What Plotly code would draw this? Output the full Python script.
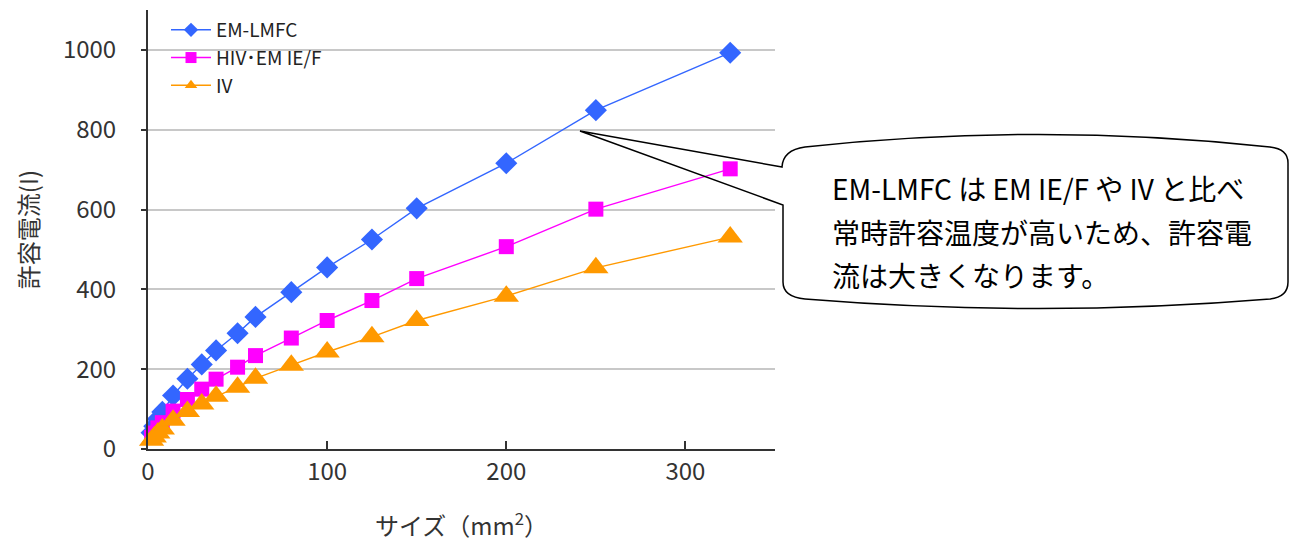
import plotly.graph_objects as go

# ---- data ----
sizes = [2, 3.5, 5.5, 8, 14, 22, 30, 38, 50, 60, 80, 100, 125, 150, 200, 250, 325]
em_lmfc = [41, 57, 75, 93, 134, 176, 212, 247, 290, 331, 393, 455, 525, 603, 716, 849, 993]
hiv_em = [29, 40, 53, 66, 95, 124, 150, 175, 205, 234, 278, 322, 372, 427, 507, 601, 702]
iv = [22, 30, 40, 50, 72, 94, 113, 132, 155, 177, 210, 243, 281, 322, 383, 454, 531]
series_names = ["EM-LMFC", "HIV･EM IE/F", "IV"]
x_ticks = [0, 100, 200, 300]
y_ticks = [0, 200, 400, 600, 800, 1000]
callout_lines = ["EM-LMFC は EM IE/F や IV と比べ", "常時許容温度が高いため、許容電", "流は大きくなります。"]

W, H = 1295, 548
L, R, T, B = 148, 775, 10, 449  # plot area in pixels

def px(x):
    return (x - L) / (R - L)

def py(y):
    return (B - y) / (B - T)

FONT = "Noto Sans CJK JP"
colors = ["#3366FF", "#FF00FF", "#FF9900"]
symbols = ["diamond", "square", "triangle-up"]
msizes = [17, 15, 22]
data = [em_lmfc, hiv_em, iv]

fig = go.Figure()
for name, vals, c, s, ms in zip(series_names, data, colors, symbols, msizes):
    fig.add_trace(go.Scatter(
        x=sizes, y=vals, mode="lines+markers", name=name, showlegend=False,
        line=dict(color=c, width=1.4),
        marker=dict(symbol=s, size=ms, color=c),
        cliponaxis=False,
    ))
# legend entries with smaller markers
for i, (name, c, s) in enumerate(zip(series_names, colors, symbols)):
    fig.add_trace(go.Scatter(
        x=[None], y=[None], mode="lines+markers", name=name, legendgroup=str(i),
        line=dict(color=c, width=1.5),
        marker=dict(symbol=s, size=11, color=c),
    ))

# callout shape (wedge rounded rectangle)
tip = (580, 131)
path_pts = [
    ("M", [(782, 167)]),
    ("L", [tip]),
    ("L", [(783, 205)]),
    ("L", [(783, 282)]),
    ("Q", [(783, 297), (805, 299)]),
    ("Q", [(1040, 318), (1270, 299)]),
    ("Q", [(1288, 297), (1288, 282)]),
    ("L", [(1288, 163)]),
    ("Q", [(1288, 149), (1270, 147)]),
    ("Q", [(1040, 122), (805, 147)]),
    ("Q", [(783, 150), (782, 167)]),
]
path = ""
for cmd, pts in path_pts:
    path += cmd + " ".join(f"{px(x):.5f},{py(y):.5f}" for x, y in pts) + " "
path += "Z"
fig.add_shape(type="path", xref="paper", yref="paper", path=path,
              line=dict(color="#000000", width=1.5), fillcolor="rgba(0,0,0,0)", layer="above")

for i, line in enumerate(callout_lines):
    fig.add_annotation(xref="paper", yref="paper", x=px(830), y=py(188 + 43.5 * i),
                       text=line, showarrow=False, xanchor="left", yanchor="middle",
                       font=dict(family=FONT, size=28, color="#000000"))

fig.update_layout(
    width=W, height=H,
    margin=dict(l=L, r=W - R, t=T, b=H - B, pad=0, autoexpand=False),
    paper_bgcolor="white", plot_bgcolor="white",
    showlegend=True,
    legend=dict(x=px(166), y=py(11), xanchor="left", yanchor="top",
                bgcolor="rgba(0,0,0,0)", font=dict(family=FONT, size=19, color="#222"),
                tracegroupgap=0, itemwidth=40),
    font=dict(family=FONT, color="#333"),
)
fig.update_xaxes(
    range=[0, 350], tickvals=x_ticks, ticktext=[str(v) for v in x_ticks],
    showgrid=False, zeroline=False, showline=True, linecolor="#333", linewidth=2,
    ticks="inside", ticklen=8, tickcolor="#333", tickwidth=1.5, automargin=False,
    tickfont=dict(family=FONT, size=24, color="#333"),
    title=dict(text="サイズ（mm<sup>2</sup>）", font=dict(family=FONT, size=24, color="#333"), standoff=32),
)
fig.update_yaxes(
    range=[0, 1100], tickvals=y_ticks, ticktext=[str(v) for v in y_ticks],
    showgrid=True, gridcolor="#C8C8C8", gridwidth=2, zeroline=False,
    showline=True, linecolor="#333", linewidth=2, automargin=False,
    ticks="outside", ticklen=5, tickcolor="#333", tickwidth=1.5,
    ticklabelstandoff=20,
    tickfont=dict(family=FONT, size=24, color="#333"),
    title=dict(text="許容電流(I)", font=dict(family=FONT, size=24, color="#333"), standoff=18),
)

fig.write_html("out.html", config={"displayModeBar": False},
               post_script="document.body.style.margin='0';")
